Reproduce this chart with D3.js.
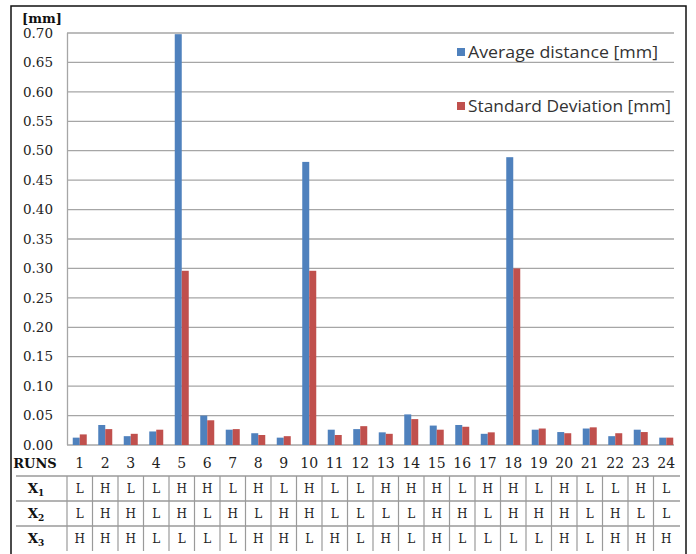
<!DOCTYPE html>
<html>
<head>
<meta charset="utf-8">
<script src="https://cdn.jsdelivr.net/npm/d3@7"></script>
<style>
  html, body { margin: 0; padding: 0; background: #fff; }
  svg { display: block; }
</style>
</head>
<body>
<svg id="chart" width="696" height="554"></svg>
<script>
const runs = ["1","2","3","4","5","6","7","8","9","10","11","12","13","14","15","16","17","18","19","20","21","22","23","24"];
const avgDistance = [0.0125,0.034,0.015,0.023,0.698,0.050,0.026,0.020,0.0125,0.481,0.026,0.027,0.0215,0.052,0.033,0.034,0.019,0.489,0.026,0.022,0.028,0.015,0.026,0.0125];
const stdDeviation = [0.018,0.027,0.019,0.026,0.296,0.042,0.027,0.017,0.015,0.296,0.017,0.032,0.019,0.044,0.026,0.031,0.0215,0.300,0.028,0.020,0.030,0.020,0.022,0.0125];
const x1Levels = ["L","H","L","L","H","H","L","H","L","H","L","L","H","H","H","L","H","H","L","H","L","L","H","L"];
const x2Levels = ["L","H","H","L","H","L","H","L","H","H","L","L","L","L","H","H","L","H","H","H","L","H","L","L"];
const x3Levels = ["H","H","H","L","L","L","L","H","H","L","H","L","H","L","H","L","L","L","L","H","L","H","H","H"];
const yTicks = [0,0.05,0.10,0.15,0.20,0.25,0.30,0.35,0.40,0.45,0.50,0.55,0.60,0.65,0.70];
const seriesNames = ["Average distance [mm]","Standard Deviation [mm]"];
const seriesColors = ["#4f81bd","#c0504d"];
const factorNames = ["1","2","3"];

const svg = d3.select("#chart");
const serif = "'DejaVu Serif', serif";
const sans = "'Open Sans', 'Liberation Sans', sans-serif";

// outer frame
svg.append("rect").attr("x",11).attr("y",6).attr("width",675).attr("height",560)
  .attr("fill","none").attr("stroke","#111").attr("stroke-width",1.5);

const x = d3.scaleBand().domain(runs).range([67, 679]).padding(0);
const xs = d3.scaleBand().domain(["avg","sd"]).range([0, 14]);
const y = d3.scaleLinear().domain([0, 0.7]).range([445, 33]);

// gridlines
svg.append("g").selectAll("line").data(yTicks).join("line")
  .attr("x1", 67).attr("x2", 674)
  .attr("y1", d => y(d)).attr("y2", d => y(d))
  .attr("stroke", "#a6a6a6").attr("stroke-width", 1.3);
// y axis line
svg.append("line").attr("x1",67.5).attr("x2",67.5).attr("y1",y(0.7)).attr("y2",y(0))
  .attr("stroke","#a6a6a6").attr("stroke-width",1.3);

// y tick labels
svg.append("g").selectAll("text").data(yTicks).join("text")
  .attr("x", 53).attr("y", d => y(d)).attr("dy","0.35em")
  .attr("text-anchor","end").attr("font-family", serif).attr("font-size", 13.5)
  .attr("fill","#222").text(d => d.toFixed(2));
svg.append("text").attr("x",22).attr("y",23).attr("font-family",serif)
  .attr("font-weight","bold").attr("font-size",13).attr("fill","#111").text("[mm]");

// bars
const data = runs.map((r,i) => ({run:r, avg:avgDistance[i], sd:stdDeviation[i]}));
const off = (x.bandwidth() - 14) / 2;
const groups = svg.append("g").selectAll("g").data(data).join("g")
  .attr("transform", d => `translate(${x(d.run) + off},0)`);
groups.append("rect").attr("x", xs("avg")).attr("width", xs.bandwidth())
  .attr("y", d => y(d.avg)).attr("height", d => y(0) - y(d.avg)).attr("fill", seriesColors[0]);
groups.append("rect").attr("x", xs("sd")).attr("width", xs.bandwidth())
  .attr("y", d => y(d.sd)).attr("height", d => y(0) - y(d.sd)).attr("fill", seriesColors[1]);

// legend
const legY = [58, 112];
const legW = [190, 203];
seriesNames.forEach((name, i) => {
  svg.append("rect").attr("x",457).attr("y",legY[i]-10).attr("width",8).attr("height",8)
    .attr("fill",seriesColors[i]);
  svg.append("text").attr("x",468).attr("y",legY[i]).attr("font-family",sans)
    .attr("font-size",15.5).attr("fill","#333")
    .attr("textLength", legW[i]).attr("lengthAdjust","spacingAndGlyphs").text(name);
});

// RUNS row
svg.append("text").attr("x",35).attr("y",463).attr("dy","0.35em").attr("text-anchor","middle")
  .attr("font-family",serif).attr("font-weight","bold").attr("font-size",13).attr("fill","#111").text("RUNS");
svg.append("g").selectAll("text").data(runs).join("text")
  .attr("x", d => x(d) + x.bandwidth()/2).attr("y", 463).attr("dy","0.35em")
  .attr("text-anchor","middle").attr("font-family",serif).attr("font-size",14)
  .attr("fill","#222").text(d => d);

// table
const rowTop = [476, 501, 526];
const rowH = 25;
const levels = [x1Levels, x2Levels, x3Levels];
svg.append("g").selectAll("line").data(rowTop).join("line")
  .attr("x1",16).attr("x2",680).attr("y1",d=>d).attr("y2",d=>d)
  .attr("stroke","#9a9a9a").attr("stroke-width",1.3);
const colEdges = runs.map(r => x(r));
svg.append("g").selectAll("line").data(colEdges).join("line")
  .attr("x1",d=>d).attr("x2",d=>d).attr("y1",476).attr("y2",551)
  .attr("stroke","#9a9a9a").attr("stroke-width",1.2);

levels.forEach((lv, k) => {
  const cy = rowTop[k] + rowH/2;
  const lbl = svg.append("text").attr("x",36).attr("y",cy).attr("dy","0.35em")
    .attr("text-anchor","middle").attr("font-family",serif).attr("font-weight","bold")
    .attr("font-size",13.5).attr("fill","#111");
  lbl.append("tspan").text("X");
  lbl.append("tspan").attr("font-size",9).attr("dy","3").text(factorNames[k]);
  svg.append("g").selectAll("text").data(lv).join("text")
    .attr("x", (d,i) => x(runs[i]) + x.bandwidth()/2).attr("y", cy).attr("dy","0.35em")
    .attr("text-anchor","middle").attr("font-family",serif).attr("font-size",12)
    .attr("fill","#222").text(d => d);
});
</script>
</body>
</html>
